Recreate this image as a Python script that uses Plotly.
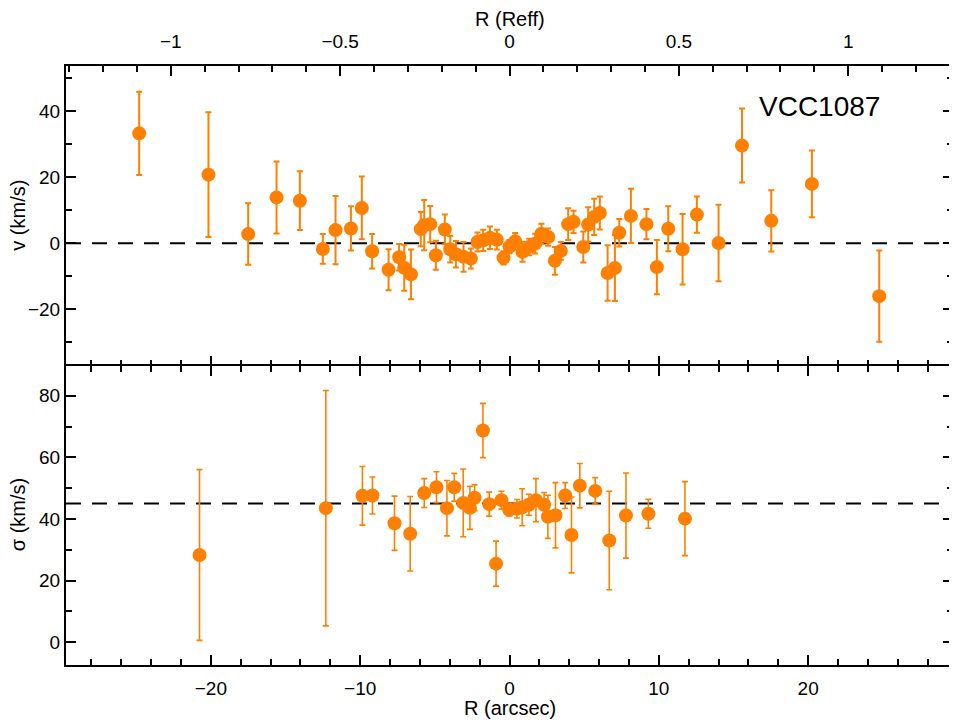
import plotly.graph_objects as go

# ---- data ----
R_v = [-24.8, -20.16, -17.5, -15.6, -14.04, -12.5, -11.65, -10.62, -9.89, -9.2,
       -8.1, -7.39, -7.05, -6.6, -5.94, -5.71, -5.31, -4.93, -4.33, -3.97,
       -3.59, -3.08, -2.59, -2.14, -1.76, -1.31, -0.85, -0.4, 0.0, 0.38,
       0.87, 1.32, 1.72, 2.14, 2.59, 3.04, 3.44, 3.93, 4.29, 4.94,
       5.27, 5.67, 6.05, 6.57, 7.06, 7.35, 8.13, 9.17, 9.87, 10.63,
       11.59, 12.55, 14.0, 15.57, 17.53, 20.25, 24.76]
v = [33.3, 20.8, 2.8, 13.9, 12.9, -1.7, 4.0, 4.5, 10.7, -2.4,
     -8.0, -4.2, -7.4, -9.4, 4.3, 5.5, 5.8, -3.6, 4.2, -1.8,
     -3.3, -4.1, -4.6, 0.4, 0.9, 1.7, 1.1, -4.4, -1.0, 0.6,
     -2.6, -1.1, -0.1, 2.9, 1.9, -5.3, -2.3, 5.8, 6.5, -1.1,
     5.7, 8.0, 9.2, -9.0, -7.5, 3.2, 8.3, 5.8, -7.2, 4.4,
     -1.8, 8.7, 0.1, 29.6, 6.8, 18.0, -16.0]
v_err = [12.6, 18.9, 9.3, 10.9, 8.9, 4.5, 10.3, 6.7, 9.5, 5.2,
         6.2, 4.0, 7.0, 7.5, 5.2, 7.6, 5.5, 4.4, 4.5, 4.0,
         4.0, 4.5, 3.0, 2.9, 3.2, 3.4, 3.0, 2.0, 2.0, 2.5,
         3.0, 2.5, 3.0, 3.0, 2.6, 4.2, 2.7, 4.8, 3.4, 4.7,
         5.2, 5.5, 5.0, 8.4, 10.0, 4.2, 8.2, 4.6, 8.2, 6.8,
         10.7, 5.5, 11.6, 11.2, 9.3, 10.1, 13.8]

R_s = [-20.76, -12.3, -9.85, -9.18, -7.7, -6.65, -5.71, -4.89, -4.19, -3.7,
       -3.1, -2.65, -2.34, -1.78, -1.36, -0.9, -0.54, -0.02, 0.5, 0.85,
       1.3, 1.77, 2.32, 2.57, 3.08, 3.73, 4.15, 4.71, 5.74, 6.68,
       7.8, 9.3, 11.75]
sig = [28.3, 43.5, 47.5, 47.6, 38.6, 35.2, 48.4, 50.3, 43.5, 50.3,
       45.2, 43.6, 46.9, 68.7, 44.8, 25.5, 46.1, 43.0, 43.3, 43.8,
       44.6, 46.1, 44.6, 40.7, 41.2, 47.6, 34.8, 50.8, 49.1, 33.0,
       41.1, 41.7, 40.1]
sig_err = [27.7, 38.2, 9.5, 6.0, 8.8, 12.1, 4.7, 5.0, 9.0, 4.5,
           11.0, 7.0, 4.2, 8.8, 3.9, 7.3, 2.9, 2.0, 3.0, 6.0,
           3.4, 7.0, 4.0, 7.0, 10.6, 4.2, 12.3, 7.2, 4.3, 16.0,
           13.8, 4.7, 12.0]

REFF = 22.68          # arcsec per Reff
V_SYS = 0.0           # reference line, top panel
SIG_MEAN = 45.0       # reference line, bottom panel
GALAXY = "VCC1087"

X_RANGE = [-29.7, 29.7]
ORANGE = "rgb(255,128,0)"
FONT = "Liberation Sans"

# the page body has an 8px default margin; size the figure so it fits the window
W, H = 949, 712
ML, MR, MT, MB = 58, 4, 58, 55
PH = H - MT - MB      # plot height in px
PW = W - ML - MR      # plot width in px

fig = go.Figure()

marker = dict(color=ORANGE, size=14, line=dict(width=0))
fig.add_trace(go.Scatter(
    x=R_v, y=v, mode="markers", marker=marker, xaxis="x2", yaxis="y2",
    error_y=dict(type="data", array=v_err, color=ORANGE, thickness=2, width=3),
    showlegend=False))
fig.add_trace(go.Scatter(
    x=R_s, y=sig, mode="markers", marker=marker, xaxis="x", yaxis="y",
    error_y=dict(type="data", array=sig_err, color=ORANGE, thickness=1.6, width=3),
    showlegend=False))
# invisible trace for the Reff axis
fig.add_trace(go.Scatter(x=[0], y=[0], xaxis="x3", yaxis="y2", mode="markers",
                         marker=dict(opacity=0), showlegend=False, hoverinfo="skip"))

common = dict(linecolor="black", linewidth=2, ticks="inside",
              tickcolor="black", tickwidth=1.5, ticklen=10, showgrid=False,
              zeroline=False, automargin=False,
              tickfont=dict(family=FONT, size=19, color="black"))
minor_x = dict(dtick=2, ticklen=6, ticks="inside", tickcolor="black", tickwidth=1.5)
minor_y = dict(dtick=10, ticklen=6, ticks="inside", tickcolor="black", tickwidth=1.5)

title_font = dict(family=FONT, size=20, color="black")

fig.update_layout(
    width=W, height=H,
    margin=dict(l=ML, r=MR, t=MT, b=MB),
    plot_bgcolor="white", paper_bgcolor="white",
    font=dict(family=FONT, color="black"),
    xaxis=dict(domain=[0, 1], anchor="y", range=X_RANGE, dtick=10, tick0=0,
               showline=True, mirror="ticks", minor=minor_x, ticklabelstandoff=5,
               **common),
    yaxis=dict(domain=[0, 0.5], anchor="x", range=[-7.4, 89.8], dtick=20, tick0=0,
               showline=True, mirror="ticks", minor=minor_y, ticklabelstandoff=0,
               **common),
    xaxis2=dict(domain=[0, 1], anchor="y2", range=X_RANGE, dtick=10, tick0=0,
                showline=False, showticklabels=False, matches="x", minor=minor_x,
                **common),
    yaxis2=dict(domain=[0.5, 1], anchor="x2", range=[-37, 53.7], dtick=20, tick0=0,
                showline=True, mirror="ticks", minor=minor_y, ticklabelstandoff=0,
                **common),
    xaxis3=dict(overlaying="x2", side="top", anchor="y2",
                range=[X_RANGE[0] / REFF, X_RANGE[1] / REFF], dtick=0.5, tick0=0,
                showline=True, minor=dict(dtick=0.1, ticklen=6, ticks="inside",
                                          tickcolor="black", tickwidth=1.5),
                ticklabelstandoff=8, **common),
    shapes=[
        dict(type="line", xref="x2 domain", yref="y2", x0=0, x1=1, y0=V_SYS, y1=V_SYS,
             line=dict(color="black", width=2, dash="15px,11px"), layer="below"),
        dict(type="line", xref="x domain", yref="y", x0=0, x1=1, y0=SIG_MEAN, y1=SIG_MEAN,
             line=dict(color="black", width=2, dash="15px,11px"), layer="below"),
    ],
    annotations=[
        dict(text=GALAXY, xref="x2", yref="y2", x=20.74, y=41.3, showarrow=False,
             font=dict(family=FONT, size=28, color="black")),
        dict(text="R (Reff)", xref="paper", yref="paper", x=0.5, y=1 + 47 / PH,
             xanchor="center", yanchor="middle", showarrow=False, font=title_font),
        dict(text="R (arcsec)", xref="paper", yref="paper", x=0.5, y=-43 / PH,
             xanchor="center", yanchor="middle", showarrow=False, font=title_font),
        dict(text="v (km/s)", xref="paper", yref="paper", x=-48 / PW, y=0.75,
             xanchor="center", yanchor="middle", textangle=-90, showarrow=False,
             font=title_font),
        dict(text="σ (km/s)", xref="paper", yref="paper", x=-48 / PW, y=0.25,
             xanchor="center", yanchor="middle", textangle=-90, showarrow=False,
             font=title_font),
    ],
)

fig.write_html("out.html")
